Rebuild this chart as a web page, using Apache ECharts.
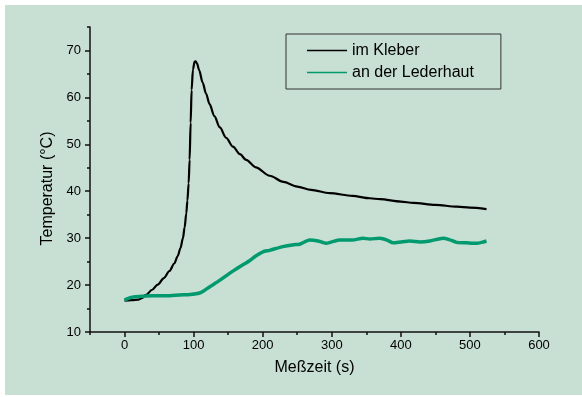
<!DOCTYPE html>
<html>
<head>
<meta charset="utf-8">
<script src="https://cdn.jsdelivr.net/npm/echarts@6/dist/echarts.min.js"></script>
<style>
  html, body { margin: 0; padding: 0; background: #fff; }
  #chart { width: 582px; height: 397px; }
</style>
</head>
<body>
<div id="chart"></div>
<script>
const kleberTime = [0, 10, 20, 25, 31, 40, 48, 57, 65, 72, 77, 81, 84.5, 87, 89.4, 91, 92.8, 94.2, 95.7, 97.1, 99, 101.4, 103, 105, 108, 113, 118, 123, 130, 138, 147, 157, 167, 176, 190, 210, 230, 250, 270, 297, 330, 355, 370, 400, 418, 450, 481, 500, 524];
const kleberTemp = [16.7, 16.8, 16.9, 17.2, 17.9, 19.0, 20.1, 21.5, 23.0, 24.6, 26.2, 27.9, 30.0, 32.3, 35.3, 38.0, 41.7, 46.7, 54.6, 61.6, 65.9, 67.6, 67.7, 67.2, 65.8, 63.2, 60.8, 58.6, 56.0, 53.6, 51.4, 49.5, 47.9, 46.7, 45.1, 43.3, 42.0, 41.0, 40.3, 39.6, 39.0, 38.5, 38.3, 37.8, 37.5, 37.1, 36.7, 36.5, 36.2];

const hautTime = [0, 3, 8, 15, 25, 40, 60, 80, 95, 108.7, 115, 123, 137.7, 152, 166.7, 181, 190, 200.4, 210, 229, 245, 253.6, 268, 280, 292, 300, 311.6, 330, 345, 355, 369.6, 380, 389, 400, 413, 427.5, 442, 461, 470, 480.7, 495, 509.7, 517, 524];
const hautTemp = [16.8, 17.0, 17.3, 17.5, 17.6, 17.7, 17.7, 17.9, 18.0, 18.3, 18.8, 19.6, 21.0, 22.5, 23.9, 25.2, 26.2, 27.1, 27.4, 28.2, 28.6, 28.7, 29.6, 29.4, 28.9, 29.2, 29.6, 29.6, 30.0, 29.8, 30.0, 29.6, 29.0, 29.2, 29.4, 29.2, 29.4, 30.0, 29.7, 29.1, 29.0, 28.9, 29.1, 29.4];

const xTicks = [0, 100, 200, 300, 400, 500, 600];
const xMinorTicks = [-50, 50, 150, 250, 350, 450, 550];
const yTicks = [10, 20, 30, 40, 50, 60, 70];
const yMinorTicks = [15, 25, 35, 45, 55, 65, 75];

const seriesNames = ['im Kleber', 'an der Lederhaut'];

const FONT = '"Liberation Sans", Arial, sans-serif';
const AXIS_COLOR = '#111';

const pairs = (xs, ys) => xs.map((x, i) => [x, ys[i]]);

const majorAxis = (customValues, extra) => Object.assign({
  type: 'value',
  axisLine: { show: true, onZero: false, lineStyle: { color: AXIS_COLOR, width: 1.5 } },
  axisTick: { show: true, inside: false, length: 5, customValues, lineStyle: { color: AXIS_COLOR, width: 1.5 } },
  splitLine: { show: false },
}, extra);

// zweite Achse nur fuer die kurzen Zwischenstriche
const minorAxis = (customValues, extra) => Object.assign({
  type: 'value',
  axisLine: { show: false, onZero: false },
  axisTick: { show: true, inside: false, length: 3, customValues, lineStyle: { color: AXIS_COLOR, width: 1.5 } },
  axisLabel: { show: false },
  splitLine: { show: false },
}, extra);

const chart = echarts.init(document.getElementById('chart'), null, { renderer: 'canvas' });

chart.setOption({
  backgroundColor: '#fff',
  animation: false,
  graphic: [{
    type: 'rect',
    z: -10,
    silent: true,
    shape: { x: 5, y: 5, width: 577, height: 390 },
    style: { fill: '#c8dfd3' },
  }],
  grid: { left: 90, right: 43, top: 27, bottom: 65 },
  legend: {
    orient: 'vertical',
    left: 286,
    top: 34,
    data: seriesNames,
    icon: 'rect',
    itemWidth: 40,
    itemHeight: 1.5,
    itemGap: 5,
    padding: [8, 27, 8, 21],
    borderColor: '#333',
    borderWidth: 1,
    textStyle: { color: '#000', fontFamily: FONT, fontSize: 16, lineHeight: 17 },
  },
  xAxis: [
    majorAxis(xTicks, {
      min: -50, max: 600,
      name: 'Meßzeit (s)', nameLocation: 'middle', nameGap: 28,
      nameTextStyle: { color: '#000', fontFamily: FONT, fontSize: 16 },
      axisLabel: { customValues: xTicks, margin: 7, color: '#000', fontFamily: FONT, fontSize: 13 },
    }),
    minorAxis(xMinorTicks, { min: -50, max: 600, position: 'bottom' }),
  ],
  yAxis: [
    majorAxis(yTicks, {
      min: 10, max: 75,
      name: 'Temperatur (°C)', nameLocation: 'middle', nameGap: 31,
      nameTextStyle: { color: '#000', fontFamily: FONT, fontSize: 16, padding: [0, 18, 0, 0] },
      axisLabel: { customValues: yTicks, margin: 9, color: '#000', fontFamily: FONT, fontSize: 13 },
    }),
    minorAxis(yMinorTicks, { min: 10, max: 75, position: 'left' }),
  ],
  series: [
    {
      name: seriesNames[0],
      type: 'line',
      data: pairs(kleberTime, kleberTemp),
      showSymbol: false,
      smooth: 0.3,
      smoothMonotone: 'x',
      color: '#000',
      lineStyle: { color: '#000', width: 2.2 },
      z: 3,
    },
    {
      name: seriesNames[1],
      type: 'line',
      data: pairs(hautTime, hautTemp),
      showSymbol: false,
      smooth: 0.2,
      color: '#009a6e',
      lineStyle: { color: '#009a6e', width: 3.5 },
      z: 4,
    },
  ],
});
</script>
</body>
</html>
